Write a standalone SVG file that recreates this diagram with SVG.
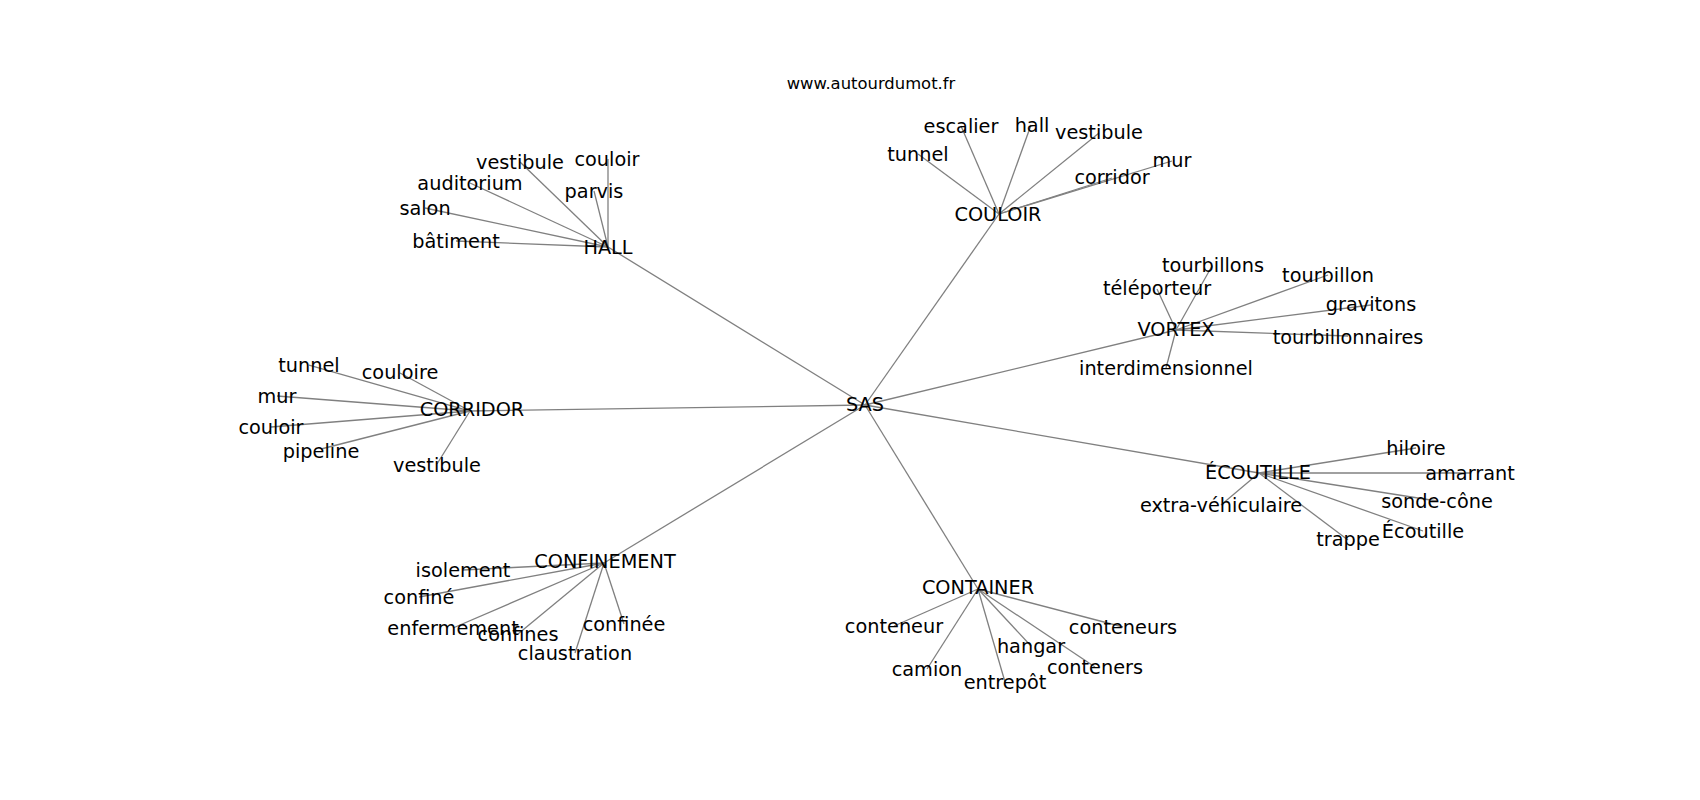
<svg xmlns="http://www.w3.org/2000/svg" width="1700" height="800" viewBox="0 0 1700 800">
<style>
.bg{fill:#ffffff}
.e{stroke:#808080;stroke-width:1.3;fill:none}
.t{font-family:"DejaVu Sans","Liberation Sans",sans-serif;font-size:19.3px;fill:#000000;text-anchor:middle}
.title{font-family:"DejaVu Sans","Liberation Sans",sans-serif;font-size:16.4px;fill:#000000;text-anchor:middle}
</style>
<rect class="bg" x="0" y="0" width="1700" height="800"/>
<text class="title" x="871" y="89">www.autourdumot.fr</text>
<g id="connectors">
<line class="e" x1="865" y1="405" x2="608" y2="247"/>
<line class="e" x1="865" y1="405" x2="999" y2="214"/>
<line class="e" x1="865" y1="405" x2="1176" y2="330"/>
<line class="e" x1="865" y1="405" x2="470" y2="411"/>
<line class="e" x1="865" y1="405" x2="1259" y2="473"/>
<line class="e" x1="865" y1="405" x2="604" y2="563"/>
<line class="e" x1="865" y1="405" x2="978" y2="589"/>
<line class="e" x1="608" y1="247" x2="520" y2="162"/>
<line class="e" x1="608" y1="247" x2="608" y2="159"/>
<line class="e" x1="608" y1="247" x2="470" y2="183"/>
<line class="e" x1="608" y1="247" x2="594" y2="191"/>
<line class="e" x1="608" y1="247" x2="425" y2="208"/>
<line class="e" x1="608" y1="247" x2="456" y2="241"/>
<line class="e" x1="999" y1="214" x2="961" y2="126"/>
<line class="e" x1="999" y1="214" x2="1031" y2="125"/>
<line class="e" x1="999" y1="214" x2="1099" y2="133"/>
<line class="e" x1="999" y1="214" x2="918" y2="154"/>
<line class="e" x1="999" y1="214" x2="1112" y2="178"/>
<line class="e" x1="999" y1="214" x2="1172" y2="161"/>
<line class="e" x1="1176" y1="330" x2="1212" y2="266"/>
<line class="e" x1="1176" y1="330" x2="1157" y2="289"/>
<line class="e" x1="1176" y1="330" x2="1328" y2="275"/>
<line class="e" x1="1176" y1="330" x2="1371" y2="305"/>
<line class="e" x1="1176" y1="330" x2="1348" y2="336"/>
<line class="e" x1="1176" y1="330" x2="1166" y2="368"/>
<line class="e" x1="470" y1="411" x2="309" y2="365"/>
<line class="e" x1="470" y1="411" x2="400" y2="373"/>
<line class="e" x1="470" y1="411" x2="277" y2="396"/>
<line class="e" x1="470" y1="411" x2="271" y2="427"/>
<line class="e" x1="470" y1="411" x2="321" y2="449"/>
<line class="e" x1="470" y1="411" x2="437" y2="464"/>
<line class="e" x1="1259" y1="473" x2="1416" y2="448"/>
<line class="e" x1="1259" y1="473" x2="1470" y2="473"/>
<line class="e" x1="1259" y1="473" x2="1437" y2="501"/>
<line class="e" x1="1259" y1="473" x2="1423" y2="531"/>
<line class="e" x1="1259" y1="473" x2="1348" y2="540"/>
<line class="e" x1="1259" y1="473" x2="1221" y2="505"/>
<line class="e" x1="604" y1="563" x2="463" y2="570"/>
<line class="e" x1="604" y1="563" x2="419" y2="597"/>
<line class="e" x1="604" y1="563" x2="453" y2="628"/>
<line class="e" x1="604" y1="563" x2="518" y2="634"/>
<line class="e" x1="604" y1="563" x2="624" y2="624"/>
<line class="e" x1="604" y1="563" x2="575" y2="653"/>
<line class="e" x1="978" y1="589" x2="894" y2="626"/>
<line class="e" x1="978" y1="589" x2="1123" y2="627"/>
<line class="e" x1="978" y1="589" x2="1031" y2="646"/>
<line class="e" x1="978" y1="589" x2="927" y2="669"/>
<line class="e" x1="978" y1="589" x2="1005" y2="682"/>
<line class="e" x1="978" y1="589" x2="1095" y2="667"/>
</g>
<g id="n-sas"><text class="t" x="865" y="410.5">SAS</text></g>
<g id="n-hall"><text class="t" x="608" y="253.5">HALL</text></g>
<g id="n-couloir"><text class="t" x="998" y="220.5">COULOIR</text></g>
<g id="n-vortex"><text class="t" x="1176" y="336">VORTEX</text></g>
<g id="n-corridor"><text class="t" x="472" y="416">CORRIDOR</text></g>
<g id="n-ecoutille"><text class="t" x="1258" y="478.5">ÉCOUTILLE</text></g>
<g id="n-confinement"><text class="t" x="605" y="567.5">CONFINEMENT</text></g>
<g id="n-container"><text class="t" x="978" y="593.5">CONTAINER</text></g>
<g id="n-hall-vestibule"><text class="t" x="520" y="168.5">vestibule</text></g>
<g id="n-hall-couloir"><text class="t" x="607" y="165.5">couloir</text></g>
<g id="n-hall-auditorium"><text class="t" x="470" y="189.5">auditorium</text></g>
<g id="n-hall-parvis"><text class="t" x="594" y="197.5">parvis</text></g>
<g id="n-hall-salon"><text class="t" x="425" y="214.5">salon</text></g>
<g id="n-hall-batiment"><text class="t" x="456" y="247.5">bâtiment</text></g>
<g id="n-couloir-escalier"><text class="t" x="961" y="132.5">escalier</text></g>
<g id="n-couloir-hall"><text class="t" x="1032" y="131.5">hall</text></g>
<g id="n-couloir-vestibule"><text class="t" x="1099" y="138.5">vestibule</text></g>
<g id="n-couloir-tunnel"><text class="t" x="918" y="160.5">tunnel</text></g>
<g id="n-couloir-corridor"><text class="t" x="1112" y="184">corridor</text></g>
<g id="n-couloir-mur"><text class="t" x="1172" y="167">mur</text></g>
<g id="n-vortex-tourbillons"><text class="t" x="1213" y="272">tourbillons</text></g>
<g id="n-vortex-teleporteur"><text class="t" x="1157" y="295">téléporteur</text></g>
<g id="n-vortex-tourbillon"><text class="t" x="1328" y="281.5">tourbillon</text></g>
<g id="n-vortex-gravitons"><text class="t" x="1371" y="311">gravitons</text></g>
<g id="n-vortex-tourbillonnaires"><text class="t" x="1348" y="344">tourbillonnaires</text></g>
<g id="n-vortex-interdimensionnel"><text class="t" x="1166" y="375">interdimensionnel</text></g>
<g id="n-corridor-tunnel"><text class="t" x="309" y="371.5">tunnel</text></g>
<g id="n-corridor-couloire"><text class="t" x="400" y="379">couloire</text></g>
<g id="n-corridor-mur"><text class="t" x="277" y="402.5">mur</text></g>
<g id="n-corridor-couloir"><text class="t" x="271" y="434">couloir</text></g>
<g id="n-corridor-pipeline"><text class="t" x="321" y="457.5">pipeline</text></g>
<g id="n-corridor-vestibule"><text class="t" x="437" y="471.5">vestibule</text></g>
<g id="n-ecoutille-hiloire"><text class="t" x="1416" y="455">hiloire</text></g>
<g id="n-ecoutille-amarrant"><text class="t" x="1470" y="480">amarrant</text></g>
<g id="n-ecoutille-sonde-cone"><text class="t" x="1437" y="508">sonde-cône</text></g>
<g id="n-ecoutille-ecoutille"><text class="t" x="1423" y="538">Écoutille</text></g>
<g id="n-ecoutille-trappe"><text class="t" x="1348" y="546">trappe</text></g>
<g id="n-ecoutille-extra"><text class="t" x="1221" y="512">extra-véhiculaire</text></g>
<g id="n-confinement-isolement"><text class="t" x="463" y="577">isolement</text></g>
<g id="n-confinement-confine"><text class="t" x="419" y="604">confiné</text></g>
<g id="n-confinement-enfermement"><text class="t" x="453" y="635">enfermement</text></g>
<g id="n-confinement-confines"><text class="t" x="518" y="641">confines</text></g>
<g id="n-confinement-confinee"><text class="t" x="624" y="631">confinée</text></g>
<g id="n-confinement-claustration"><text class="t" x="575" y="660">claustration</text></g>
<g id="n-container-conteneur"><text class="t" x="894" y="633">conteneur</text></g>
<g id="n-container-conteneurs"><text class="t" x="1123" y="634">conteneurs</text></g>
<g id="n-container-hangar"><text class="t" x="1031" y="653">hangar</text></g>
<g id="n-container-camion"><text class="t" x="927" y="676">camion</text></g>
<g id="n-container-entrepot"><text class="t" x="1005" y="689">entrepôt</text></g>
<g id="n-container-conteners"><text class="t" x="1095" y="674">conteners</text></g>
</svg>
